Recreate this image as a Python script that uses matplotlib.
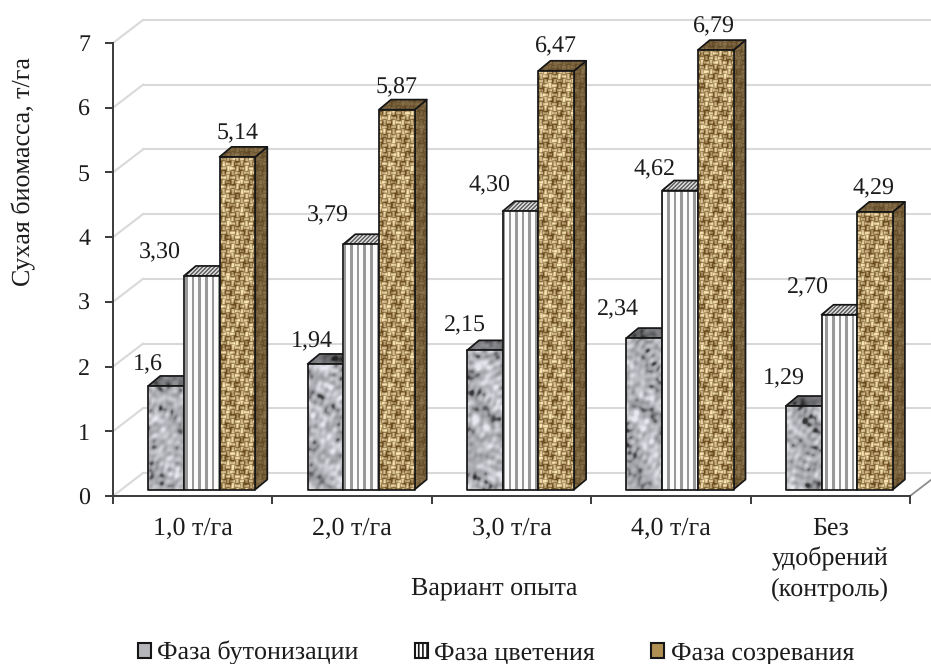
import numpy as np
import matplotlib
matplotlib.use("Agg")
import matplotlib.pyplot as plt
from matplotlib.patches import Polygon, Patch

plt.rcParams['font.family'] = ['Liberation Serif', 'DejaVu Serif']
plt.rcParams['hatch.linewidth'] = 1.2
plt.rcParams['text.hinting'] = 'none'
plt.rcParams['text.hinting_factor'] = 1

categories = ["1,0 т/га", "2,0 т/га", "3,0 т/га", "4,0 т/га", "Без\nудобрений\n(контроль)"]
series_names = ["Фаза бутонизации", "Фаза цветения", "Фаза созревания"]
budding = [1.6, 1.94, 2.15, 2.34, 1.29]
flowering = [3.30, 3.79, 4.30, 4.62, 2.70]
ripening = [5.14, 5.87, 6.47, 6.79, 4.29]
budding_text = ["1,6", "1,94", "2,15", "2,34", "1,29"]
flowering_text = ["3,30", "3,79", "4,30", "4,62", "2,70"]
ripening_text = ["5,14", "5,87", "6,47", "6,79", "4,29"]
y_ticks = [0, 1, 2, 3, 4, 5, 6, 7]

# Label offsets from the top centre of each bar's front face, in pixels
budding_off = [(-18, 21), (-14, 22), (-20, 25), (-26, 29), (-20, 27)]
flowering_off = [(-42, 23), (-33, 29), (-31, 26), (-25, 21), (-31, 27)]
ripening_off = [(0, 23), (0, 22), (0, 24), (-2, 24), (-2, 23)]

FS_NUM = 17.5
FS_CAT = 18.5
FS_WORD = 18.7
INK = "#1c1c1c"
W, H = 931, 664
DPI = 100
X0, X1, Y0, Y7 = 113.0, 910.0, 496.0, 43.0
UX = (X1 - X0) / 5
UY = (Y0 - Y7) / 7

fig = plt.figure(figsize=(W / DPI, H / DPI), dpi=DPI, facecolor="white")
ax = fig.add_axes([X0 / W, 1 - Y0 / H, (X1 - X0) / W, (Y0 - Y7) / H])
ax.set_facecolor("none")

# 3D layout, expressed in data units
wall_dx, wall_dy = 30 / UX, 23 / UY
base_dy = 6.5 / UY
depth_dx, depth_dy = 12 / UX, 10 / UY
bar_w = 35.7 / UX
group_x0 = 35.2 / UX

# Pixel coordinate grid for the procedural surface textures
gx, gy = np.meshgrid(np.arange(W, dtype=float), np.arange(H, dtype=float))


def granite():
    v = np.zeros_like(gx)
    for k in range(1, 70):
        ang = k * 2.399963
        freq = 0.10 + 1.0 * ((k * 0.618034) % 1)
        v += np.sin(freq * (np.cos(ang) * gx + np.sin(ang) * gy) + k * 1.3) / (0.35 + freq)
    v /= v.std()
    g = 0.70 + 0.085 * v - 0.16 * np.clip(-v - 1.0, 0, None)
    g = np.clip(g, 0.22, 0.92)
    return np.dstack([g * 0.985, g * 0.99, g * 1.02]).clip(0, 1)


def stripes():
    gray = ((gx % 6.6) < 2.6)
    c = np.where(gray, 0.60, 0.99)
    return np.dstack([c, c, c])


def burlap():
    p = 4.6
    cx = np.floor(gx / p)
    cy = np.floor(gy / p)
    over = ((cx + cy) % 2 == 0)
    warp = 0.5 + 0.5 * np.cos(2 * np.pi * (gx % p) / p - np.pi)
    weft = 0.5 + 0.5 * np.cos(2 * np.pi * (gy % p) / p - np.pi)
    thread = np.where(over, weft, warp)
    mod = (np.sin(0.31 * gx + 1.1 * np.sin(0.17 * gy)) * np.sin(0.23 * gy + 0.8)
           + 0.6 * np.sin(0.83 * gx + 0.37 * gy)
           + 0.5 * np.sin(0.11 * gx - 0.57 * gy + 2.0))
    t = np.clip(0.60 * thread + 0.17 + 0.22 * mod, 0, 1)
    dark = np.array([0.42, 0.30, 0.13])
    light = np.array([0.98, 0.90, 0.70])
    return dark + (light - dark) * t[..., None]


def diagonal():
    d = ((gx + gy) % 4.0) < 1.8
    c = np.where(d, 0.42, 0.82)
    return np.dstack([c, c, c])


tex_granite = granite()
tex_stripes = stripes()
tex_burlap = burlap()
tex_diag = diagonal()
# Shaded, low-contrast version of the weave for the side and top faces
tex_burlap_shade = 0.45 * tex_burlap * 0.62 + 0.55 * np.array([0.49, 0.38, 0.21])

extent = (-X0 / UX, (W - X0) / UX, (Y0 - H) / UY, Y0 / UY)


def textured(poly, tex, z, scale=1.0):
    im = ax.imshow(np.clip(tex * scale, 0, 1), extent=extent, origin="upper",
                   aspect="auto", interpolation="bilinear", zorder=z)
    patch = Polygon(poly, closed=True, transform=ax.transData,
                    facecolor="none", edgecolor="none")
    im.set_clip_path(patch)
    im.set_clip_box(fig.bbox)
    ax.add_patch(Polygon(poly, closed=True, facecolor="none", edgecolor="#161616",
                         linewidth=1.25, zorder=z + 0.1, clip_on=False,
                         joinstyle="round"))


def box(x, value, z, tex_front, tex_top, tex_side, top_scale, side_scale):
    b, t = base_dy, base_dy + value
    r = x + bar_w
    rd, td = r + depth_dx, t + depth_dy
    textured([(r, b), (rd, b + depth_dy), (rd, td), (r, t)], tex_side, z, side_scale)
    textured([(x, t), (x + depth_dx, td), (rd, td), (r, t)], tex_top, z + 0.2, top_scale)
    textured([(x, b), (r, b), (r, t), (x, t)], tex_front, z + 0.4)


# Back wall, side wall and floor lines
grid_c = "#d9d9d9"
for v in y_ticks:
    ax.plot([wall_dx, (W - X0) / UX], [v + wall_dy] * 2, color=grid_c, lw=1.5,
            zorder=1, clip_on=False)
    ax.plot([0, wall_dx], [v, v + wall_dy], color=grid_c, lw=1.5, zorder=1, clip_on=False)
ax.plot([5, 5 + wall_dx * 0.72], [0, wall_dy * 0.72], color="#8c8c8c", lw=1.3,
        zorder=1, clip_on=False)

all_values = [budding, flowering, ripening]
all_text = [budding_text, flowering_text, ripening_text]
all_off = [budding_off, flowering_off, ripening_off]
styles = [
    (tex_granite, tex_granite, tex_granite, 0.62, 0.62),
    (tex_stripes, tex_diag, tex_stripes, 1.0, 0.6),
    (tex_burlap, tex_burlap_shade, tex_burlap_shade, 1.0, 1.0),
]

for g in range(len(categories)):
    for s in range(3):
        x = g + group_x0 + s * bar_w
        tf, tt, ts, top_k, side_k = styles[s]
        box(x, all_values[s][g], 3 + g + s, tf, tt, ts, top_k, side_k)

for g in range(len(categories)):
    for s in range(3):
        x = g + group_x0 + s * bar_w + bar_w / 2
        dx, dy = all_off[s][g]
        ax.annotate(all_text[s][g], (x, base_dy + all_values[s][g]),
                    xytext=(dx * 72 / DPI, dy * 72 / DPI), textcoords="offset points",
                    ha="center", va="center", fontsize=FS_NUM, color=INK,
                    zorder=30, annotation_clip=False)

ax.set_xlim(0, 5)
ax.set_ylim(0, 7)
ax.set_xticks(range(6))
ax.set_xticklabels([])
ax.set_yticks(y_ticks)
ax.set_yticklabels([str(v) for v in y_ticks], fontsize=FS_NUM, color=INK)
ax.tick_params(axis="both", direction="out", length=5.5, width=1.4, color="#3a3a3a")
ax.tick_params(axis="y", pad=11)
for side in ("top", "right"):
    ax.spines[side].set_visible(False)
for side in ("left", "bottom"):
    ax.spines[side].set_color("#3a3a3a")
    ax.spines[side].set_linewidth(1.4)

for i, name in enumerate(categories):
    for j, line in enumerate(name.split("\n")):
        ax.text(i + 0.5, -(32.5 + 30.5 * j) / UY, line, ha="center", va="center",
                fontsize=FS_CAT, color=INK, clip_on=False)

ax.set_xlabel("Вариант опыта", fontsize=FS_WORD, color=INK, va="center")
ax.xaxis.set_label_coords((494 - X0) / (X1 - X0), -92 / (Y0 - Y7))
ax.set_ylabel("Сухая биомасса, т/га", fontsize=FS_WORD, color=INK, va="center")
ax.yaxis.set_label_coords(-89 / (X1 - X0), (Y0 - 172) / (Y0 - Y7))

handles = [
    Patch(facecolor="#b4b6b9", edgecolor="#161616", linewidth=1.5),
    Patch(facecolor="white", edgecolor="#161616", hatch="||||", linewidth=1.5),
    Patch(facecolor="#b08f52", edgecolor="#161616", linewidth=1.5),
]
fig.legend(handles, series_names, loc="center", ncol=3, frameon=False, fontsize=FS_WORD,
           bbox_to_anchor=(496 / W, 1 - 653 / H), handlelength=0.5, handleheight=0.5,
           handletextpad=0.26, columnspacing=2.15, labelcolor=INK)

fig.savefig("out.png", dpi=DPI, facecolor="white")
